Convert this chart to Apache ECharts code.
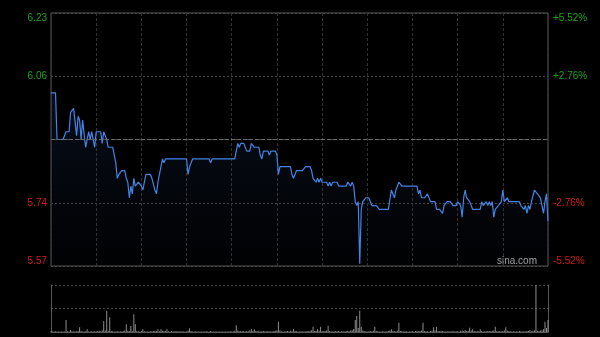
<!DOCTYPE html>
<html><head><meta charset="utf-8">
<script src="https://cdn.jsdelivr.net/npm/echarts@6/dist/echarts.min.js"></script>
<style>html,body{margin:0;padding:0;background:#000;}#c{width:600px;height:337px;}</style>
</head><body><div id="c"></div>
<script>
// previous close (centre line) and percent range of the price panel
const prevClose = 5.90;
const pctRange = 5.52;
const pctStep = 2.76;

// intraday price: minute index (0..330, HK session) and price
const priceMinute = [0,3,4,8,10,12,13,14,15,17,18,19,20,21,23,25,26,27,28,29,30,33,34,35,36,37,38,41,42,43,44,45,47,49,50,51,52,53,54,55,56,58,60,61,62,63,66,67,68,69,70,71,73,74,75,76,90,91,92,94,105,106,107,122,124,125,126,128,130,132,133,135,138,139,140,141,144,145,146,149,150,151,152,159,160,161,162,163,167,169,172,173,174,175,176,177,178,179,180,183,184,185,186,187,190,191,196,197,199,200,201,202,203,204,205,206,207,209,211,213,216,218,224,226,227,228,229,231,233,243,244,245,246,248,250,251,252,255,256,258,260,261,263,265,267,269,270,272,273,274,275,276,277,278,279,280,285,286,287,289,290,291,292,293,294,295,297,299,300,301,303,304,311,312,314,315,316,317,318,319,321,323,325,326,327,328,329,330];
const priceValue = [6.02,6.02,5.90,5.90,5.92,5.92,5.97,5.97,5.98,5.91,5.96,5.95,5.90,5.95,5.88,5.92,5.90,5.92,5.92,5.88,5.92,5.92,5.89,5.92,5.91,5.90,5.88,5.88,5.86,5.84,5.80,5.81,5.82,5.82,5.80,5.79,5.75,5.78,5.76,5.80,5.78,5.79,5.78,5.77,5.79,5.81,5.81,5.80,5.80,5.77,5.76,5.79,5.83,5.85,5.84,5.85,5.85,5.81,5.83,5.85,5.85,5.84,5.85,5.85,5.89,5.88,5.89,5.89,5.87,5.87,5.89,5.88,5.88,5.86,5.85,5.87,5.87,5.86,5.87,5.87,5.86,5.81,5.83,5.83,5.81,5.80,5.81,5.82,5.82,5.83,5.83,5.82,5.80,5.80,5.79,5.80,5.79,5.80,5.79,5.79,5.78,5.79,5.78,5.79,5.79,5.78,5.78,5.79,5.78,5.79,5.78,5.74,5.73,5.74,5.58,5.72,5.74,5.75,5.75,5.73,5.73,5.72,5.72,5.77,5.77,5.75,5.77,5.79,5.78,5.78,5.76,5.77,5.75,5.75,5.76,5.76,5.74,5.74,5.72,5.72,5.71,5.73,5.74,5.74,5.73,5.73,5.74,5.73,5.70,5.75,5.77,5.75,5.75,5.74,5.74,5.72,5.72,5.74,5.73,5.74,5.73,5.74,5.73,5.74,5.70,5.72,5.73,5.74,5.77,5.74,5.75,5.74,5.74,5.73,5.72,5.73,5.71,5.73,5.72,5.74,5.77,5.76,5.75,5.73,5.71,5.74,5.76,5.69];

// per-minute volume (relative units)
const volume = [
8,6,5,7,5,6,4,5,6,5,120,8,6,20,7,5,6,8,9,47,10,6,5,8,27,6,5,7,6,8,
6,9,12,8,14,110,16,210,12,147,10,8,6,5,7,5,8,6,9,14,77,12,9,60,11,177,77,10,8,6,
9,27,7,5,6,5,8,7,9,12,10,27,8,27,12,9,10,27,8,6,9,7,5,10,6,8,5,7,6,4,
6,14,37,9,6,5,7,4,6,5,4,6,5,7,4,5,9,6,4,5,6,4,5,6,4,5,4,6,5,7,
6,8,12,67,14,8,10,7,9,6,11,8,14,30,10,27,9,7,12,6,8,10,7,6,9,5,8,6,9,12,
14,103,16,8,6,5,7,9,6,12,8,27,10,7,5,6,8,5,7,6,9,8,12,15,53,10,9,27,12,53,
11,8,10,14,63,9,7,6,8,10,7,9,6,8,7,5,9,12,8,14,18,30,120,160,40,213,53,16,10,8,
6,7,9,8,12,53,10,7,6,5,8,6,5,7,9,14,27,10,8,7,12,93,11,9,6,8,7,5,6,8,
7,5,9,12,8,10,14,93,9,7,8,6,10,12,47,14,53,10,8,12,9,7,6,8,5,7,6,9,5,7,
8,6,12,14,9,20,10,12,43,16,27,9,7,10,8,27,9,6,8,7,10,9,8,12,16,53,10,8,9,7,
10,14,47,12,9,8,6,7,5,8,6,9,7,5,8,6,9,10,20,8,12,18,470,12,10,14,16,27,103,40,120
];
const volMax = 470;

const priceData = priceMinute.map((m, k) => [m, priceValue[k]]);
const volData = volume.map((v, k) => [k, v]);

const GREEN = '#1aa31a', RED = '#d41a1a';
const FONT = '"Liberation Sans", Arial, sans-serif';

const chart = echarts.init(document.getElementById('c'), null, {renderer: 'canvas'});
chart.setOption({
  backgroundColor: '#000',
  animation: false,
  grid: [
    {left: 51, right: 52, top: 13, height: 253, show: true, borderColor: '#5a5a5a', borderWidth: 1, backgroundColor: 'transparent'},
    {left: 51, right: 52, top: 285, height: 47}
  ],
  xAxis: [
    {type: 'value', gridIndex: 0, min: 0, max: 330, interval: 30,
     axisLine: {show: false}, axisTick: {show: false}, axisLabel: {show: false},
     splitLine: {show: true, lineStyle: {color: '#333', type: [3, 2], width: 1}}},
    {type: 'value', gridIndex: 1, min: 0, max: 330, interval: 30,
     axisLine: {show: true, lineStyle: {color: '#5a5a5a'}}, axisTick: {show: false}, axisLabel: {show: false},
     splitLine: {show: false}}
  ],
  yAxis: [
    {type: 'value', gridIndex: 0, position: 'left', min: -pctRange, max: pctRange, interval: pctStep,
     axisLine: {show: false}, axisTick: {show: false},
     splitLine: {show: true, lineStyle: {color: '#484848', type: [2, 2]}},
     axisLabel: {
       fontFamily: FONT, fontSize: 10, margin: 4,
       verticalAlignMaxLabel: 'top', verticalAlignMinLabel: 'bottom',
       color: v => v > 0 ? GREEN : RED,
       formatter: v => Math.abs(v) < 1e-9 ? '' : (prevClose * (1 + v / 100)).toFixed(2)
     }},
    {type: 'value', gridIndex: 0, position: 'right', min: -pctRange, max: pctRange, interval: pctStep,
     axisLine: {show: false}, axisTick: {show: false}, splitLine: {show: false},
     axisLabel: {
       fontFamily: FONT, fontSize: 10, margin: 5,
       verticalAlignMaxLabel: 'top', verticalAlignMinLabel: 'bottom',
       color: v => v > 0 ? GREEN : RED,
       formatter: v => Math.abs(v) < 1e-9 ? '' : (v > 0 ? '+' : '') + v.toFixed(2) + '%'
     }},
    {type: 'value', gridIndex: 0, show: false,
     min: prevClose * (1 - pctRange / 100), max: prevClose * (1 + pctRange / 100)},
    {type: 'value', gridIndex: 1, position: 'left', min: 0, max: volMax, interval: volMax / 2,
     axisLine: {show: true, lineStyle: {color: '#5a5a5a'}}, axisTick: {show: false}, axisLabel: {show: false},
     splitLine: {show: true, lineStyle: {color: '#484848', type: [2, 2]}}},
    {type: 'value', gridIndex: 1, position: 'right', min: 0, max: volMax,
     axisLine: {show: true, lineStyle: {color: '#5a5a5a'}}, axisTick: {show: false}, axisLabel: {show: false},
     splitLine: {show: false}}
  ],
  series: [
    {type: 'line', xAxisIndex: 0, yAxisIndex: 2, data: priceData, showSymbol: false, symbol: 'none',
     lineStyle: {color: '#4484e4', width: 1.2},
     areaStyle: {color: new echarts.graphic.LinearGradient(0, 0, 0, 1, [
       {offset: 0, color: 'rgba(40,75,140,0.28)'},
       {offset: 1, color: 'rgba(20,35,70,0.08)'}])},
     markLine: {silent: true, symbol: 'none', label: {show: false},
       lineStyle: {color: '#6a6a6a', type: [4, 2], width: 1},
       data: [{yAxis: prevClose}]},
     z: 3},
    {type: 'bar', xAxisIndex: 1, yAxisIndex: 3, data: volData, barWidth: 1,
     itemStyle: {color: '#8c8c8c'}, z: 2}
  ],
  graphic: [
    {type: 'text', right: 63, top: 256, style: {text: 'sina.com', fill: '#a8a8a8', font: '10px ' + FONT}}
  ]
});
</script></body></html>
